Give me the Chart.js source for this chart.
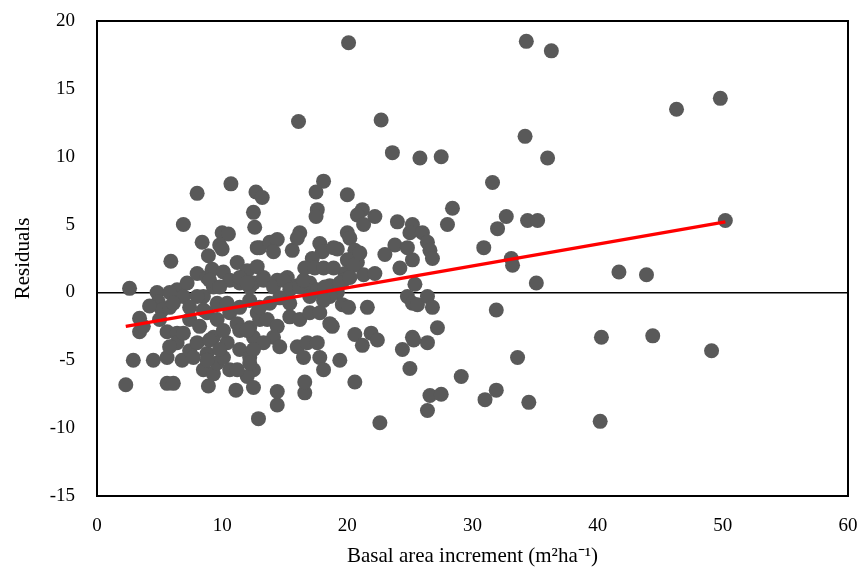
<!DOCTYPE html>
<html>
<head>
<meta charset="utf-8">
<script src="https://cdn.jsdelivr.net/npm/chart.js@4/dist/chart.umd.min.js"></script>
<style>
html,body{margin:0;padding:0;background:#fff;}
#wrap{width:863px;height:575px;position:relative;}
</style>
</head>
<body>
<div id="wrap"><canvas id="c" width="863" height="575"></canvas></div>
<script>
// Basal area increment (m2 ha-1)
const baiValues = [
20.1,34.3,36.3,46.3,49.8,16.1,22.7,34.2,23.6,25.8,27.5,36.0,8.0,10.7,12.7,13.2,18.1,20.0,17.5,17.6,
17.5,6.9,28.4,31.6,32.7,34.4,35.2,28.0,25.2,24.0,50.2,25.0,26.0,26.4,26.6,26.8,25.2,23.8,24.8,30.9,
32.0,33.1,33.2,35.1,41.7,43.9,31.9,33.6,29.1,26.6,26.4,27.5,31.0,31.9,34.5,40.2,40.3,44.4,49.1,22.6,
12.9,14.4,14.4,16.6,16.6,20.6,11.1,8.9,2.3,5.6,6.1,2.9,4.5,2.6,3.4,3.4,4.8,5.9,8.4,
21.2,20.8,21.3,22.2,20.0,20.2,19.2,20.6,20.8,23.0,24.2,21.3,22.2,19.8,19.7,19.2,19.6,20.1,18.8,21.6,
25.4,24.8,25.2,25.6,26.4,26.8,27.2,26.4,25.2,25.3,24.4,25.0,20.6,21.2,21.9,22.4,19.4,
6.4,7.2,8.0,4.9,5.2,5.8,5.6,6.4,5.6,6.8,8.5,9.3,7.4,8.0,8.8,6.4,7.4,8.2,8.8,9.6,8.5,9.3,8.8,
10.0,10.5,9.8,10.0,8.9,11.2,12.5,12.6,12.8,9.2,10.1,12.0,10.6,11.4,12.2,
13.0,13.8,14.4,14.1,15.6,16.2,16.0,17.8,18.0,18.9,17.2,16.6,17.4,20.0,20.5,21.0,12.8,13.3,12.5,14.4,
15.2,16.0,16.8,18.6,19.4,20.2,18.1,18.9,
9.0,9.8,11.4,12.0,13.3,14.1,14.9,15.4,14.6,13.8,15.4,16.2,17.0,17.6,18.2,18.6,18.1,17.0,16.5,
10.6,11.2,12.2,13.0,12.8,9.3,10.4,11.4,12.5,13.6,14.4,14.1,14.6,15.4,16.2,17.0,17.8,18.6,
16.0,16.8,17.6,16.5,17.8,18.1,9.6,10.1,10.6,11.4,12.2,12.5,13.3,12.0,9.6,10.4,11.4,12.2,13.0,
5.8,6.9,8.0,6.1,7.4,8.5,3.7,6.9,9.0,10.1,12.0,5.8,9.8,12.5,7.7,8.8,11.2,12.2,12.5,5.0,4.2
];
// Residuals
const residualValues = [
18.4,18.5,17.8,13.5,14.3,12.6,12.7,11.5,10.3,9.9,10.0,9.9,7.3,8.0,7.4,7.0,8.2,7.2,7.4,6.1,
5.6,5.0,6.2,8.1,5.6,5.3,5.3,5.0,5.0,5.2,5.3,4.4,4.4,3.7,3.1,2.5,2.4,3.5,3.3,3.3,
4.7,2.5,2.0,0.7,1.5,1.3,-1.3,-4.8,-6.2,-7.6,-8.7,-7.5,-7.9,-7.2,-8.1,-9.5,-3.3,-3.2,-4.3,-9.6,
-9.3,-8.3,-7.3,-7.4,-6.6,-6.6,-7.2,-6.9,-6.8,-6.7,-6.7,-5.0,-5.0,0.3,-1.9,-2.9,0.0,2.3,3.7,
6.1,5.7,5.0,5.6,4.4,4.0,3.2,3.1,2.2,2.8,1.8,1.3,1.4,1.4,0.9,0.0,-0.9,-1.1,-2.5,-1.1,
0.6,-0.3,-0.8,-0.9,-0.3,-1.1,-2.6,-3.7,-3.3,-3.5,-4.2,-5.6,-3.1,-3.9,-3.0,-3.5,-5.0,
0.2,0.7,1.4,-0.7,-1.3,-1.1,-2.9,-3.0,-4.8,-5.0,-5.7,-6.0,-4.3,-3.7,-4.5,-3.7,-2.0,-2.5,-1.5,-2.0,-0.3,0.4,1.1,
4.4,4.3,3.5,3.2,2.7,2.2,5.9,4.8,3.3,1.7,1.5,1.6,0.9,0.7,0.4,
3.3,3.7,3.9,3.0,3.1,4.4,4.0,3.6,3.0,3.3,2.5,1.8,1.8,2.4,2.0,2.9,1.9,1.1,0.7,0.9,
1.1,0.5,0.4,0.5,0.7,1.1,1.8,1.8,
0.9,0.4,1.1,0.7,0.9,0.4,0.9,0.2,-0.4,-0.8,-0.8,0.4,0.7,0.2,0.4,-0.3,-0.6,-0.3,0.9,
-1.5,-2.3,-2.6,-2.0,-1.5,-3.3,-3.7,-2.8,-3.3,-2.0,-2.5,-3.3,-4.0,-1.8,-2.0,-1.5,-1.5,-2.3,
-4.0,-3.7,-3.7,-4.8,-4.8,-5.7,-5.2,-4.8,-5.7,-4.2,-4.8,-5.7,-3.7,-6.2,-0.8,-0.8,-1.1,-0.6,-1.1,
0.0,-0.3,-0.3,-0.8,-1.1,-1.3,-2.5,-3.0,-3.5,-2.8,-2.8,-4.0,-4.2,-4.2,-4.8,-5.0,-5.7,-5.2,-7.0,-2.0,-1.0
];
// Linear trend end points
const trendX = [2.3, 50.2];
const trendY = [-2.5, 5.2];

const xTicks = [0,10,20,30,40,50,60];
const yTicks = [-15,-10,-5,0,5,10,15,20];

const points = baiValues.map((x,i)=>({x:x, y:residualValues[i]}));
const trend = trendX.map((x,i)=>({x:x, y:trendY[i]}));

const boxPlugin = {
  id:'box',
  beforeDatasetsDraw(chart){
    const a = chart.chartArea, ctx = chart.ctx;
    ctx.save();
    ctx.strokeStyle = '#000';
    ctx.lineWidth = 2;
    ctx.strokeRect(a.left, a.top, a.right - a.left, a.bottom - a.top);
    ctx.restore();
  }
};

const FONT = "'Liberation Serif', 'Times New Roman', serif";
const CLEAR = 'rgba(0,0,0,0)';

new Chart(document.getElementById('c'), {
  type:'scatter',
  data:{
    datasets:[
      {
        label:'Residuals',
        data: points,
        backgroundColor:'#595959',
        borderColor:'#595959',
        borderWidth:0,
        pointRadius:7.5,
        pointHoverRadius:7.5,
        order:2
      },
      {
        type:'line',
        label:'Trend',
        data: trend,
        borderColor:'#ff0000',
        borderWidth:3.5,
        pointRadius:0,
        fill:false,
        order:1
      }
    ]
  },
  options:{
    responsive:false,
    animation:false,
    events:[],
    layout:{padding:{top:21,right:15,left:0,bottom:0}},
    plugins:{legend:{display:false},tooltip:{enabled:false}},
    scales:{
      x:{
        type:'linear',
        min:0,max:60,
        afterBuildTicks(s){ s.ticks = xTicks.map(v=>({value:v})); },
        afterFit(s){ s.height = 79; },
        grid:{display:true, drawOnChartArea:false, drawTicks:true, tickLength:19, tickColor:CLEAR, color:CLEAR},
        border:{display:true, color:'#000', width:2},
        ticks:{color:'#000', font:{family:FONT, size:19}, padding:0, maxRotation:0},
        title:{display:true, text:'Basal area increment (m²ha⁻¹)', color:'#000', font:{family:FONT, size:21}, padding:{top:4,bottom:6}}
      },
      y:{
        type:'linear',
        min:-15,max:20,
        afterBuildTicks(s){ s.ticks = yTicks.map(v=>({value:v})); },
        afterFit(s){ s.width = 97; },
        grid:{
          drawTicks:true,
          tickLength:22,
          tickColor:CLEAR,
          color:(c)=> (c.tick && c.tick.value===0) ? '#000' : CLEAR,
          lineWidth:1.5
        },
        border:{display:true, color:'#000', width:2},
        ticks:{color:'#000', font:{family:FONT, size:19}, padding:0},
        title:{display:true, text:'Residuals', color:'#000', font:{family:FONT, size:21}, padding:{top:11,bottom:0}}
      }
    }
  },
  plugins:[boxPlugin]
});
</script>
</body>
</html>
